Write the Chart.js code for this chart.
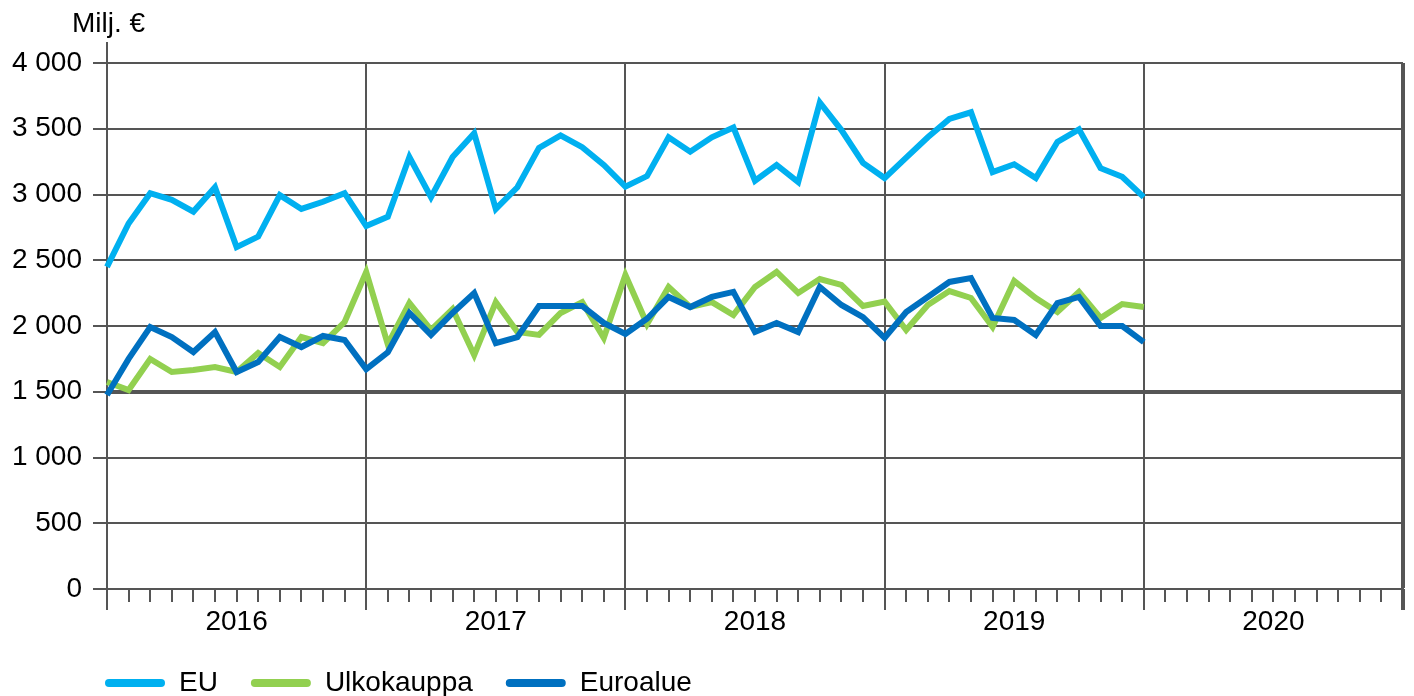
<!DOCTYPE html>
<html>
<head>
<meta charset="utf-8">
<script src="https://cdn.jsdelivr.net/npm/chart.js@4"></script>
<style>
  html, body { margin: 0; padding: 0; background: #fff; }
  #wrap { width: 1414px; height: 696px; }
</style>
</head>
<body>
<div id="wrap"><canvas id="c" width="1414" height="696"></canvas></div>
<script>
// ---- Data (monthly, Jan 2016 -> Jan 2020), million € ----
const years = ['2016', '2017', '2018', '2019', '2020'];
const monthNames = ['01','02','03','04','05','06','07','08','09','10','11','12'];
const unitLabel = 'Milj. €';
const seriesNames = ['EU', 'Ulkokauppa', 'Euroalue'];

const euValues = [2450, 2780, 3010, 2960, 2870, 3055, 2600, 2680, 2995, 2890, 2945, 3010,
                  2760, 2830, 3285, 2980, 3285, 3465, 2890, 3055, 3355, 3450, 3360, 3225,
                  3060, 3140, 3435, 3325, 3435, 3510, 3105, 3225, 3095, 3700, 3490, 3240,
                  3125, 3280, 3435, 3575, 3625, 3170, 3230, 3125, 3400, 3495, 3200, 3135,
                  2980];
const ulkokauppaValues = [1574, 1513, 1749, 1650, 1665, 1688, 1650, 1795, 1688, 1916, 1870, 2030,
                  2411, 1860, 2175, 1970, 2129, 1779, 2182, 1954, 1932, 2099, 2182, 1909,
                  2388, 2015, 2297, 2144, 2182, 2084, 2297, 2411, 2251, 2357, 2312, 2152,
                  2186, 1970, 2160, 2266, 2213, 1992, 2342, 2213, 2106, 2259, 2061, 2167,
                  2144];
const euroalueValues = [1475, 1750, 1992, 1916, 1802, 1954, 1650, 1726, 1916, 1840, 1924, 1893,
                  1672, 1800, 2099, 1932, 2099, 2251, 1870, 1916, 2152, 2152, 2152, 2023,
                  1939, 2055, 2221, 2144, 2221, 2259, 1954, 2023, 1954, 2297, 2160, 2068,
                  1909, 2106, 2221, 2335, 2365, 2061, 2046, 1932, 2175, 2221, 2000, 2000,
                  1878];
const yTicks = [0, 500, 1000, 1500, 2000, 2500, 3000, 3500, 4000];

// month categories: 2016-01 ... 2020-12, plus closing 2021-01 boundary
const labels = [];
years.forEach(y => monthNames.forEach(m => labels.push(y + '-' + m)));
labels.push('2021-01');

const FONT = '"Liberation Sans", Arial, sans-serif';
const GRID = '#555555';

const extras = {
  id: 'extras',
  afterLayout(chart) {
    // legend starts under the value axis, like the original
    if (chart.legend) chart.legend.left = 72;
  },
  afterDraw(chart) {
    const ctx = chart.ctx;
    const xs = chart.scales.x, ys = chart.scales.y;
    const bottom = ys.getPixelForValue(0);
    const top = ys.getPixelForValue(4000);
    ctx.save();
    ctx.strokeStyle = GRID;
    // longer year-boundary ticks
    for (let i = 0; i < labels.length; i += 12) {
      const x = Math.round(xs.getPixelForValue(i));
      ctx.lineWidth = (i === labels.length - 1) ? 4 : 2;
      ctx.beginPath();
      ctx.moveTo(x, bottom);
      ctx.lineTo(x, bottom + 21);
      ctx.stroke();
    }
    // value axis line extends above the top gridline
    const x0 = Math.round(xs.getPixelForValue(0));
    ctx.lineWidth = 2;
    ctx.beginPath();
    ctx.moveTo(x0, top);
    ctx.lineTo(x0, top - 21);
    ctx.stroke();
    // unit label
    ctx.fillStyle = '#000';
    ctx.font = '28px ' + FONT;
    ctx.textAlign = 'left';
    ctx.textBaseline = 'alphabetic';
    ctx.fillText(unitLabel, 72, 32);
    ctx.restore();
  }
};

const colors = ['#00B0F0', '#92D050', '#0070C0'];
const values = [euValues, ulkokauppaValues, euroalueValues];
const orders = [0, 2, 1];

new Chart(document.getElementById('c'), {
  type: 'line',
  data: {
    labels: labels,
    datasets: seriesNames.map((name, i) => ({
      label: name,
      data: values[i],
      borderColor: colors[i],
      backgroundColor: colors[i],
      borderWidth: 6,
      pointRadius: 0,
      tension: 0,
      fill: false,
      order: orders[i]
    }))
  },
  options: {
    responsive: false,
    animation: false,
    layout: { padding: { left: 0, right: 11, top: 63, bottom: -11 } },
    plugins: {
      title: { display: false },
      tooltip: { enabled: false },
      legend: {
        display: true,
        position: 'bottom',
        align: 'start',
        labels: {
          font: { family: FONT, size: 28, lineHeight: 1 },
          color: '#000',
          boxWidth: 60,
          boxHeight: 8,
          padding: 33,
          useBorderRadius: true,
          borderRadius: 4,
          sort: (a, b) => a.datasetIndex - b.datasetIndex,
          generateLabels: (chart) => Chart.defaults.plugins.legend.labels.generateLabels(chart)
            .map(it => Object.assign(it, { lineWidth: 0 }))
        }
      }
    },
    scales: {
      x: {
        type: 'category',
        offset: false,
        afterFit: (s) => { s.height = 47; },
        border: { display: true, color: GRID, width: 2 },
        grid: {
          drawOnChartArea: true,
          drawTicks: true,
          tickLength: 13,
          color: (c) => (c.index % 12 === 0 ? GRID : 'rgba(0,0,0,0)'),
          lineWidth: (c) => (c.index === labels.length - 1 ? 4 : 2),
          tickColor: GRID,
          tickWidth: (c) => (c.index === labels.length - 1 ? 4 : 2)
        },
        ticks: {
          autoSkip: false,
          maxRotation: 0,
          minRotation: 0,
          padding: 3,
          color: '#000',
          font: { family: FONT, size: 28 },
          callback: function (v, i) {
            return i % 12 === 6 ? years[Math.floor(i / 12)] : '';
          }
        }
      },
      y: {
        min: 0,
        max: 4000,
        afterFit: (s) => { s.width = 107; },
        afterBuildTicks: (s) => { s.ticks = yTicks.map(v => ({ value: v })); },
        border: { display: true, color: GRID, width: 2 },
        grid: {
          color: GRID,
          lineWidth: (c) => (c.tick && c.tick.value === 1500 ? 4 : 2),
          tickLength: 14,
          tickColor: GRID,
          tickWidth: 2
        },
        ticks: {
          padding: 11,
          color: '#000',
          font: { family: FONT, size: 28 },
          callback: (v) => String(v).replace(/\B(?=(\d{3})+(?!\d))/g, ' ')
        }
      }
    }
  },
  plugins: [extras]
});
</script>
</body>
</html>
